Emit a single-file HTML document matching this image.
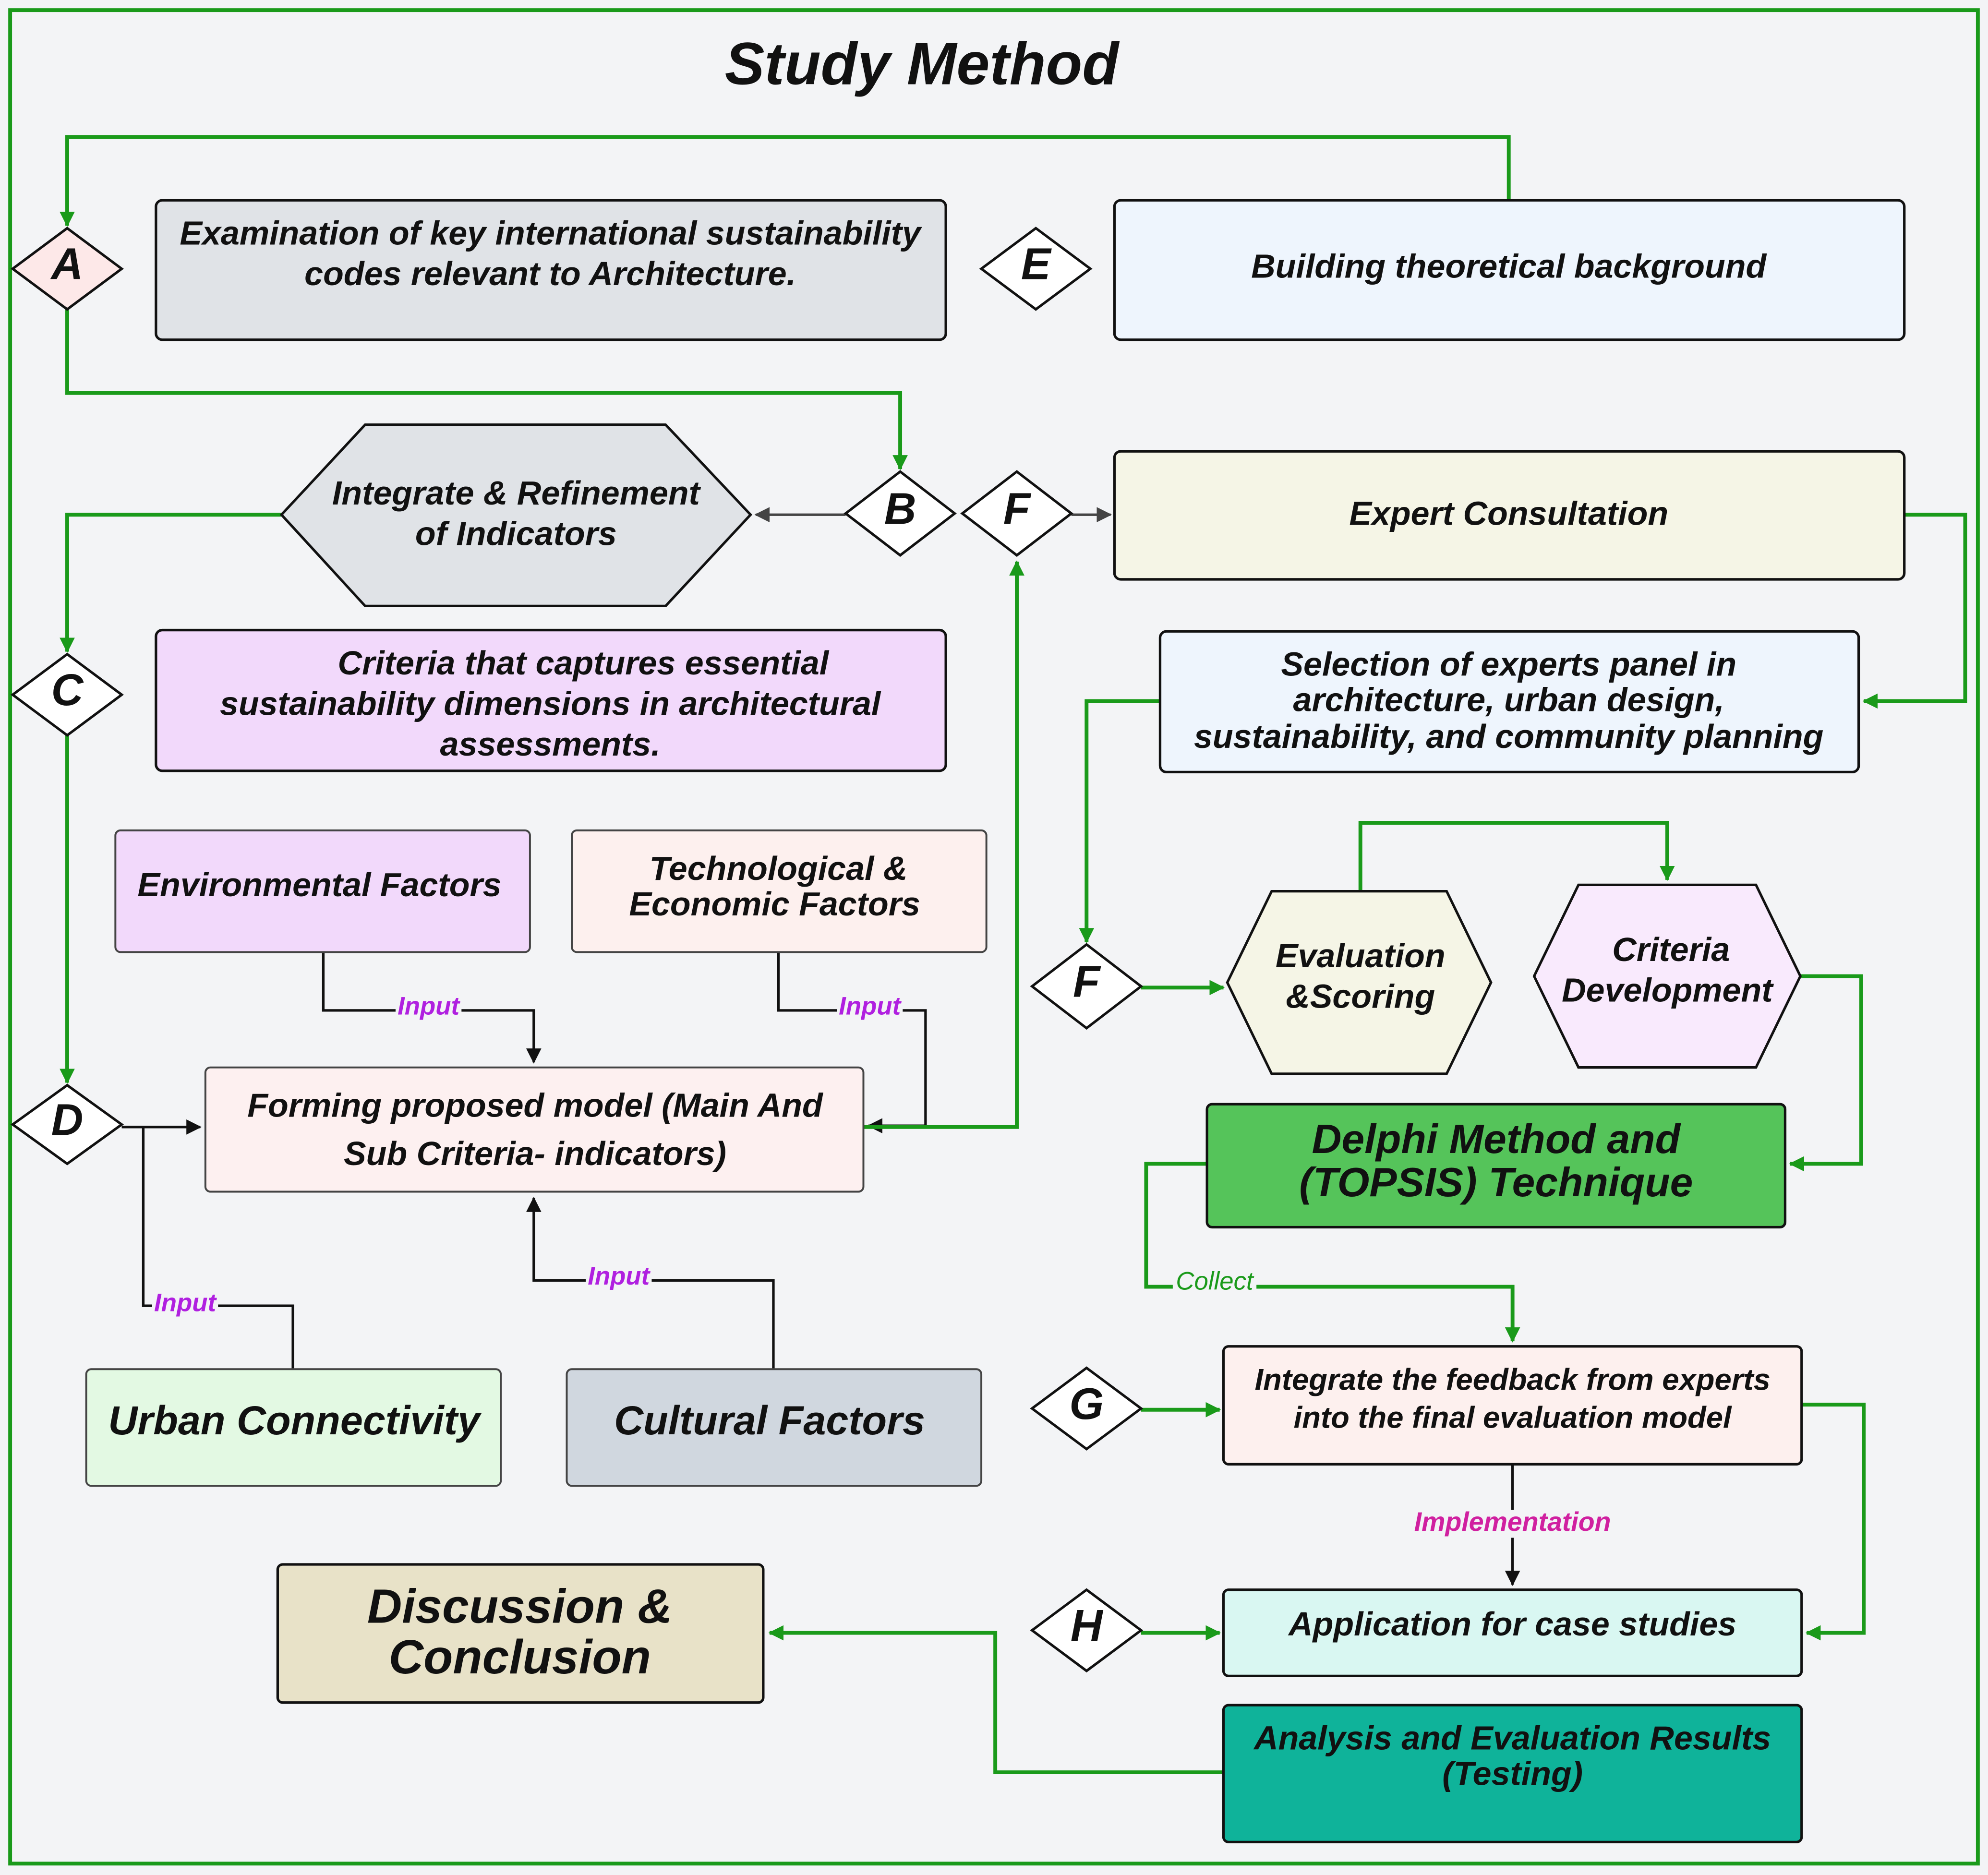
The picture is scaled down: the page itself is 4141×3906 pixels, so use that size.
<!DOCTYPE html>
<html><head><meta charset="utf-8"><style>
html,body{margin:0;padding:0;background:#f3f4f6}
svg{display:block}
text{font-family:"Liberation Sans",sans-serif;font-weight:bold;font-style:italic;fill:#111;text-anchor:middle;dominant-baseline:middle}
.g{stroke:#1a9a1a;stroke-width:3;fill:none}
.k{stroke:#111;stroke-width:2;fill:none}
.b{stroke:#111;stroke-width:2}
.lab{font-size:20px;fill:#b020e0}
.t{font-size:26.5px}
</style></head><body>
<svg width="4141" height="3906" viewBox="0 0 1568 1479" preserveAspectRatio="none" xmlns="http://www.w3.org/2000/svg">
<defs>
<marker id="ag" markerWidth="12" markerHeight="12" refX="11" refY="6" orient="auto" markerUnits="userSpaceOnUse" viewBox="0 0 12 12"><path d="M0,0L12,6L0,12z" fill="#1a9a1a"/></marker>
<marker id="ak" markerWidth="12" markerHeight="12" refX="11" refY="6" orient="auto" markerUnits="userSpaceOnUse" viewBox="0 0 12 12"><path d="M0,0L12,6L0,12z" fill="#111"/></marker>
<marker id="ay" markerWidth="12" markerHeight="12" refX="11" refY="6" orient="auto" markerUnits="userSpaceOnUse" viewBox="0 0 12 12"><path d="M0,0L12,6L0,12z" fill="#444"/></marker>
</defs>
<rect x="0" y="0" width="1568" height="1479" fill="#f3f4f6"/>
<rect x="8" y="8" width="1552" height="1462" fill="none" stroke="#1a9a1a" stroke-width="3"/>
<text x="727" y="54" style="font-size:47px">Study Method</text>

<path class="g" d="M1190,158V108H53V178" marker-end="url(#ag)"/>
<path class="g" d="M53,244V310H710V370" marker-end="url(#ag)"/>
<path d="M667,406H596" stroke="#444" stroke-width="2" marker-end="url(#ay)"/>
<path d="M845,406H876" stroke="#444" stroke-width="2" marker-end="url(#ay)"/>
<path class="g" d="M1502,406H1550V553H1470" marker-end="url(#ag)"/>
<path class="g" d="M222,406H53V514" marker-end="url(#ag)"/>
<path class="g" d="M53,580V854" marker-end="url(#ag)"/>
<path class="k" d="M96,889H158" marker-end="url(#ak)"/>
<path class="k" d="M113,889V1030H231V1080"/>
<path class="k" d="M255,751V797H421V838" marker-end="url(#ak)"/>
<path class="k" d="M614,751V797H730V888H685" marker-end="url(#ak)"/>
<path class="k" d="M610,1080V1010H421V945" marker-end="url(#ak)"/>
<path class="g" d="M681,889H802V443" marker-end="url(#ag)"/>
<path class="g" d="M915,553H857V743" marker-end="url(#ag)"/>
<path class="g" d="M900,779H965" marker-end="url(#ag)"/>
<path class="g" d="M1073,703V649H1315V694" marker-end="url(#ag)"/>
<path class="g" d="M1420,770H1468V918H1412" marker-end="url(#ag)"/>
<path class="g" d="M952,918H904V1015H1193V1058" marker-end="url(#ag)"/>
<path class="g" d="M900,1112H962" marker-end="url(#ag)"/>
<path class="k" d="M1193,1155V1250" marker-end="url(#ak)"/>
<path class="g" d="M1421,1108H1470V1288H1425" marker-end="url(#ag)"/>
<path class="g" d="M900,1288H962" marker-end="url(#ag)"/>
<path class="g" d="M965,1398H785V1288H607" marker-end="url(#ag)"/>

<rect x="312" y="785" width="52" height="20" fill="#f3f4f6"/><text class="lab" x="338" y="795">Input</text>
<rect x="660" y="785" width="52" height="20" fill="#f3f4f6"/><text class="lab" x="686" y="795">Input</text>
<rect x="120" y="1019" width="52" height="20" fill="#f3f4f6"/><text class="lab" x="146" y="1029">Input</text>
<rect x="462" y="998" width="52" height="20" fill="#f3f4f6"/><text class="lab" x="488" y="1008">Input</text>
<rect x="925" y="1002" width="66" height="20" fill="#f3f4f6"/><text x="958" y="1012" style="font-size:20px;fill:#1a9a1a;font-weight:normal">Collect</text>
<rect x="1113" y="1191" width="160" height="22" fill="#f3f4f6"/><text x="1193" y="1202" style="font-size:21px;fill:#d020a0">Implementation</text>

<rect class="b" x="123" y="158" width="623" height="110" rx="5" fill="#e0e3e7"/>
<text class="t" x="434" y="186">Examination of key international sustainability</text>
<text class="t" x="434" y="218">codes relevant to Architecture.</text>
<rect class="b" x="879" y="158" width="623" height="110" rx="5" fill="#eef5fd"/>
<text class="t" x="1190" y="212">Building theoretical background</text>
<polygon class="b" points="222,406 288,335 525,335 592,406 525,478 288,478" fill="#e0e3e7"/>
<text class="t" x="407" y="391">Integrate &amp; Refinement</text>
<text class="t" x="407" y="423">of Indicators</text>
<rect class="b" x="879" y="356" width="623" height="101" rx="5" fill="#f5f5e6"/>
<text class="t" x="1190" y="407">Expert Consultation</text>
<rect class="b" x="123" y="497" width="623" height="111" rx="5" fill="#f2d9fb"/>
<text class="t" x="460" y="525">Criteria that captures essential</text>
<text class="t" x="434" y="557">sustainability dimensions in architectural</text>
<text class="t" x="434" y="589">assessments.</text>
<rect class="b" x="915" y="498" width="551" height="111" rx="5" fill="#eef5fd"/>
<text class="t" x="1190" y="526">Selection of experts panel in</text>
<text class="t" x="1190" y="554">architecture, urban design,</text>
<text class="t" x="1190" y="583">sustainability, and community planning</text>
<rect x="91" y="655" width="327" height="96" rx="4" fill="#f2d9fb" stroke="#444" stroke-width="1.5"/>
<text class="t" x="252" y="700">Environmental Factors</text>
<rect x="451" y="655" width="327" height="96" rx="4" fill="#fdf0ee" stroke="#444" stroke-width="1.5"/>
<text class="t" x="614" y="687">Technological  &amp;</text>
<text class="t" x="611" y="715">Economic Factors</text>
<polygon class="b" points="968,775 1003,703 1141,703 1176,775 1141,847 1003,847" fill="#f5f5e6"/>
<text class="t" x="1073" y="756">Evaluation</text>
<text class="t" x="1073" y="788">&amp;Scoring</text>
<polygon class="b" points="1210,770 1245,698 1385,698 1420,770 1385,842 1245,842" fill="#f9eafd"/>
<text class="t" x="1318" y="751">Criteria</text>
<text class="t" x="1315" y="783">Development</text>
<rect x="162" y="842" width="519" height="98" rx="4" fill="#fdf0f0" stroke="#444" stroke-width="1.5"/>
<text class="t" x="422" y="874">Forming proposed model (Main And</text>
<text class="t" x="422" y="912">Sub Criteria- indicators)</text>
<rect class="b" x="952" y="871" width="456" height="97" rx="4" fill="#55c45a"/>
<text x="1180" y="901" style="font-size:32.5px">Delphi Method and</text>
<text x="1180" y="935" style="font-size:32.5px">(TOPSIS) Technique</text>
<rect x="68" y="1080" width="327" height="92" rx="4" fill="#e3f9e3" stroke="#444" stroke-width="1.5"/>
<text x="232" y="1123" style="font-size:32px">Urban Connectivity</text>
<rect x="447" y="1080" width="327" height="92" rx="4" fill="#d0d7df" stroke="#444" stroke-width="1.5"/>
<text x="607" y="1123" style="font-size:32px">Cultural Factors</text>
<rect class="b" x="965" y="1062" width="456" height="93" rx="4" fill="#fdf0ee"/>
<text x="1193" y="1090" style="font-size:24px">Integrate the feedback from experts</text>
<text x="1193" y="1120" style="font-size:24px">into the final evaluation model</text>
<rect class="b" x="219" y="1234" width="383" height="109" rx="4" fill="#e8e2c8"/>
<text x="410" y="1270" style="font-size:38px">Discussion &amp;</text>
<text x="410" y="1310" style="font-size:38px">Conclusion</text>
<rect class="b" x="965" y="1254" width="456" height="68" rx="4" fill="#d9f7f2"/>
<text class="t" x="1193" y="1283">Application for case studies</text>
<rect class="b" x="965" y="1345" width="456" height="108" rx="4" fill="#0fb39a"/>
<text class="t" x="1193" y="1373">Analysis and Evaluation Results</text>
<text class="t" x="1193" y="1401">(Testing)</text>

<polygon class="b" points="10,212 53,180 96,212 53,244" fill="#fde8e8"/><text x="53" y="211" style="font-size:35px">A</text>
<polygon class="b" points="774,212 817,180 860,212 817,244" fill="#fff"/><text x="817" y="211" style="font-size:35px">E</text>
<polygon class="b" points="667,405 710,372 753,405 710,438" fill="#fff"/><text x="710" y="404" style="font-size:35px">B</text>
<polygon class="b" points="759,405 802,372 845,405 802,438" fill="#fff"/><text x="802" y="404" style="font-size:35px">F</text>
<polygon class="b" points="10,548 53,516 96,548 53,580" fill="#fff"/><text x="53" y="547" style="font-size:35px">C</text>
<polygon class="b" points="10,887 53,856 96,887 53,918" fill="#fff"/><text x="53" y="886" style="font-size:35px">D</text>
<polygon class="b" points="814,778 857,745 900,778 857,811" fill="#fff"/><text x="857" y="777" style="font-size:35px">F</text>
<polygon class="b" points="814,1111 857,1079 900,1111 857,1143" fill="#fff"/><text x="857" y="1110" style="font-size:35px">G</text>
<polygon class="b" points="814,1286 857,1254 900,1286 857,1318" fill="#fff"/><text x="857" y="1285" style="font-size:35px">H</text>
</svg>
</body></html>
